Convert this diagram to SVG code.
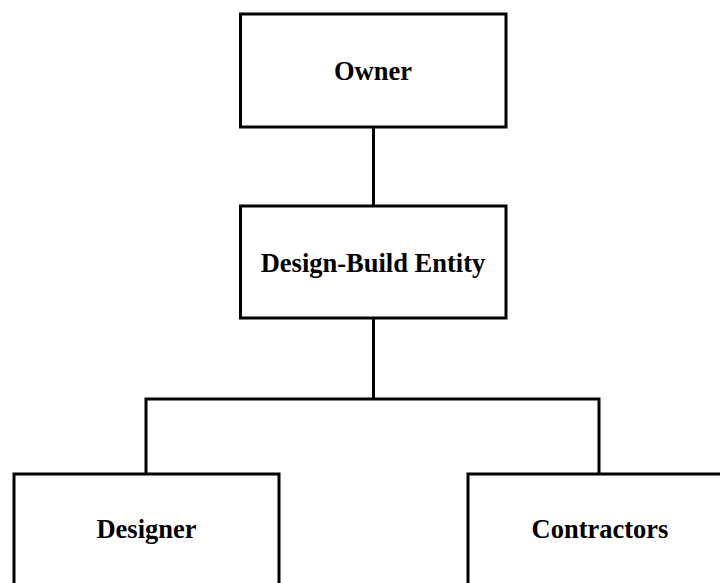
<svg xmlns="http://www.w3.org/2000/svg" width="720" height="583" viewBox="0 0 720 583">
<style>
.box{fill:#fff;stroke:#000;stroke-width:3}
.lbl{font-family:"Liberation Serif","Times New Roman",serif;font-weight:bold;font-size:26.5px;text-anchor:middle;fill:#000}
.conn{fill:none;stroke:#000;stroke-width:3}
</style>
<rect width="720" height="583" fill="#fff"/>
<g id="connectors">
<line class="conn" x1="373.5" y1="127" x2="373.5" y2="206"/>
<line class="conn" x1="373.5" y1="318" x2="373.5" y2="399"/>
<polyline class="conn" points="146,474 146,399 599,399 599,474"/>
</g>
<g id="owner">
<rect class="box" x="240.5" y="14" width="265.5" height="113"/>
<text class="lbl" x="373" y="80">Owner</text>
</g>
<g id="design-build">
<rect class="box" x="240.5" y="206" width="265.5" height="112"/>
<text class="lbl" x="373" y="272">Design-Build Entity</text>
</g>
<g id="designer">
<rect class="box" x="14" y="474" width="265" height="130"/>
<text class="lbl" x="146.5" y="538">Designer</text>
</g>
<g id="contractors">
<rect class="box" x="468" y="474" width="265" height="130"/>
<text class="lbl" x="600" y="538">Contractors</text>
</g>
</svg>
